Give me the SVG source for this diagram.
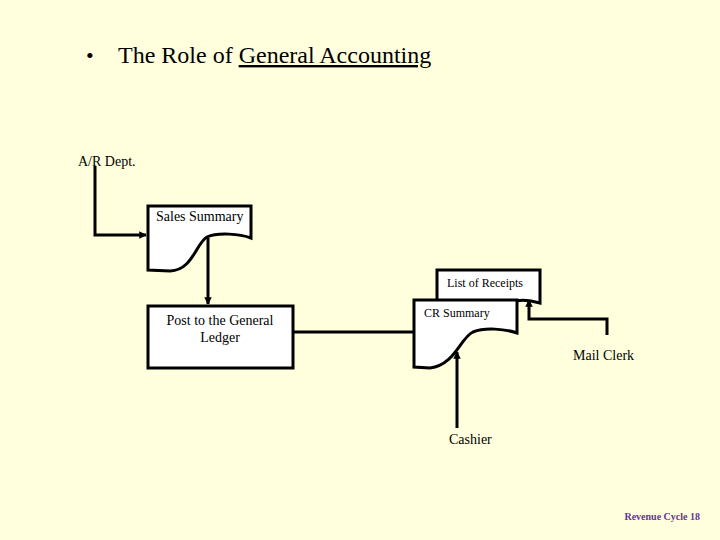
<svg xmlns="http://www.w3.org/2000/svg" width="720" height="540" viewBox="0 0 720 540">
<defs>
<style>
.bg{fill:#FFFFDD}
.doc{fill:#FFFFFF;stroke:#000;stroke-width:3;stroke-linejoin:miter}
.ln{fill:none;stroke:#000;stroke-width:3}
.t{font-family:"Liberation Serif","Times New Roman",serif;fill:#000}
</style>
<marker id="ah" viewBox="0 0 10 10" refX="9" refY="5" markerWidth="2.5" markerHeight="2.5" orient="auto" markerUnits="strokeWidth">
<path d="M0,0 L10,5 L0,10 Z" fill="#000"/>
</marker>
</defs>
<rect class="bg" x="0" y="0" width="720" height="540"/>
<g id="title">
<text class="t" x="86" y="63" font-size="22">•</text>
<text class="t" x="118" y="63" font-size="24">The Role of <tspan text-decoration="underline">General Accounting</tspan></text>
</g>
<g id="connectors">
<polyline class="ln" points="95,166 95,235 146,235" marker-end="url(#ah)"/>
<line class="ln" x1="208" y1="238" x2="208" y2="304" marker-end="url(#ah)"/>
<line class="ln" x1="293" y1="332" x2="414" y2="332"/>
<polyline class="ln" points="607,335 607,319 529,319 529,300" marker-end="url(#ah)"/>
<line class="ln" x1="457" y1="428" x2="457" y2="352" marker-end="url(#ah)"/>
</g>
<g id="ar-dept">
<text class="t" x="78" y="166" font-size="14">A/R Dept.</text>
</g>
<g id="sales-summary">
<path class="doc" d="M148,206 H251 V238 C240,234 218,232 207,237 C196,243 193,270 170,271 L148,270 Z"/>
<text class="t" x="156" y="221" font-size="14">Sales Summary</text>
</g>
<g id="post-gl">
<rect class="doc" x="148" y="306" width="145" height="62"/>
<text class="t" x="220" y="325" font-size="14" text-anchor="middle">Post to the General</text>
<text class="t" x="220" y="342" font-size="14" text-anchor="middle">Ledger</text>
</g>
<g id="list-receipts">
<path class="doc" d="M437,270 H540 V303 C530,300 520,299 512,302 L437,302 Z"/>
<text class="t" x="447" y="287" font-size="12">List of Receipts</text>
</g>
<g id="cr-summary">
<path class="doc" d="M414,300 H517 V333 C505,329 485,327 473,332 C460,338 455,365 430,368 L414,367 Z"/>
<text class="t" x="424" y="317" font-size="12">CR Summary</text>
</g>
<g id="mail-clerk">
<text class="t" x="573" y="360" font-size="14">Mail Clerk</text>
</g>
<g id="cashier">
<text class="t" x="449" y="444" font-size="14">Cashier</text>
</g>
<g id="footer">
<text x="700" y="520" font-size="10" font-weight="bold" text-anchor="end" font-family="Liberation Serif,serif" fill="#663399">Revenue Cycle 18</text>
</g>
</svg>
